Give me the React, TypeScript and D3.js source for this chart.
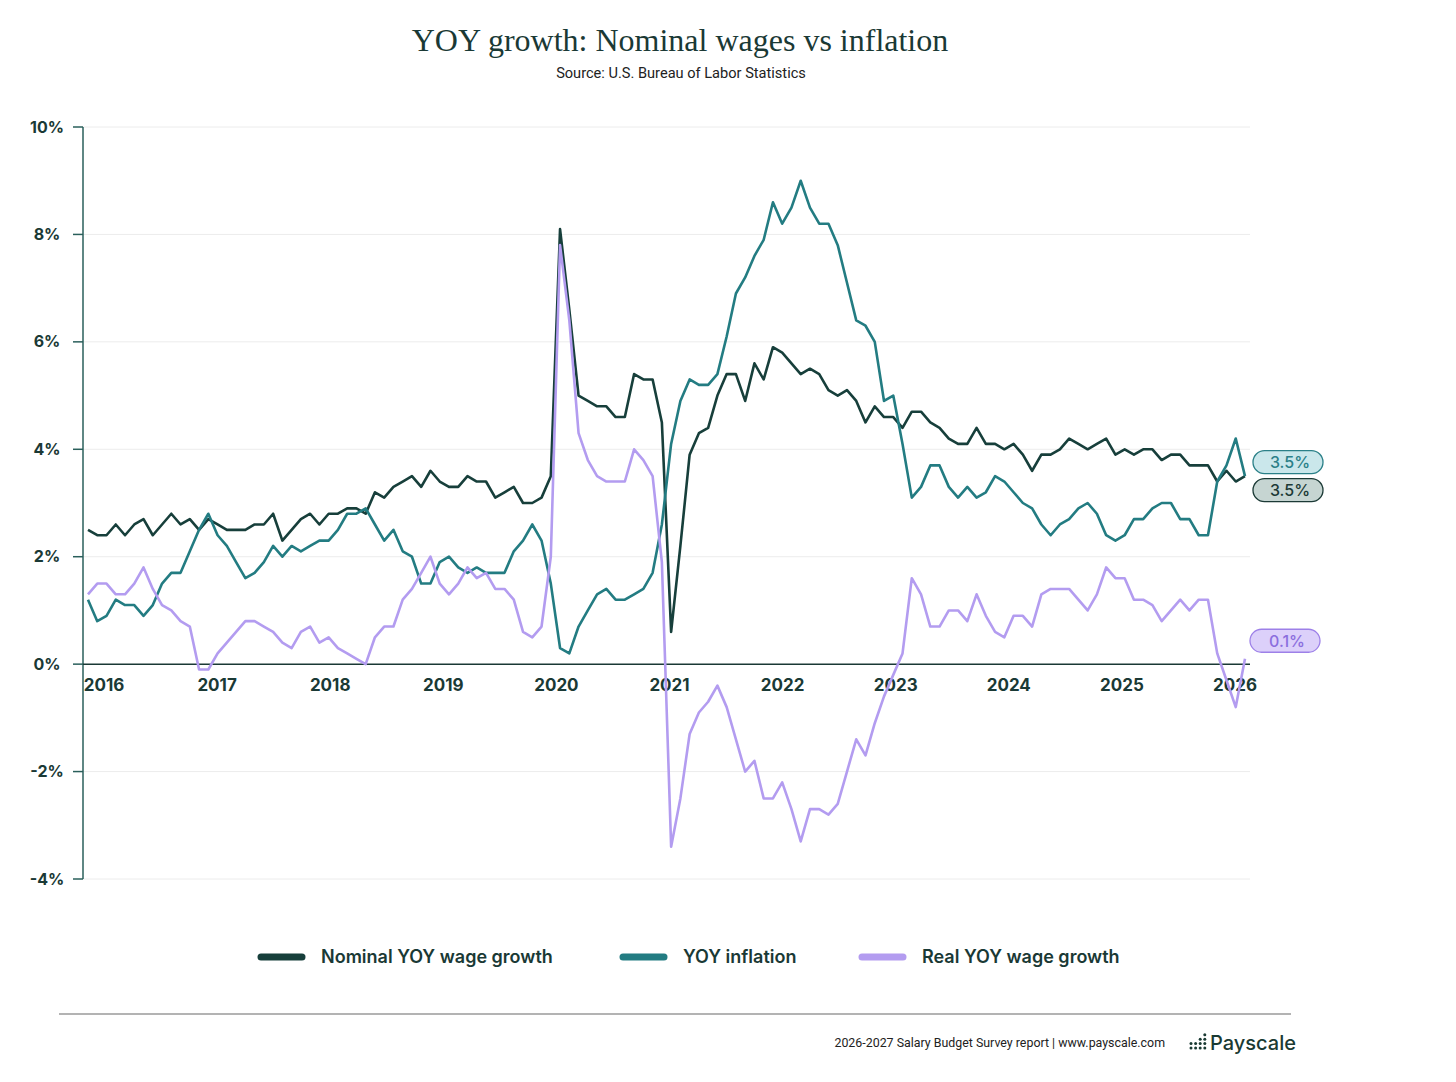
import * as React from "react";
import * as d3 from "d3";

// monthly YOY values, Jan 2016 onwards
const nominal = [
    2.5, 2.4, 2.4, 2.6, 2.4, 2.6, 2.7, 2.4, 2.6, 2.8, 2.6, 2.7,
    2.5, 2.7, 2.6, 2.5, 2.5, 2.5, 2.6, 2.6, 2.8, 2.3, 2.5, 2.7,
    2.8, 2.6, 2.8, 2.8, 2.9, 2.9, 2.8, 3.2, 3.1, 3.3, 3.4, 3.5,
    3.3, 3.6, 3.4, 3.3, 3.3, 3.5, 3.4, 3.4, 3.1, 3.2, 3.3, 3.0,
    3.0, 3.1, 3.5, 8.1, 6.6, 5.0, 4.9, 4.8, 4.8, 4.6, 4.6, 5.4,
    5.3, 5.3, 4.5, 0.6, 2.2, 3.9, 4.3, 4.4, 5.0, 5.4, 5.4, 4.9,
    5.6, 5.3, 5.9, 5.8, 5.6, 5.4, 5.5, 5.4, 5.1, 5.0, 5.1, 4.9,
    4.5, 4.8, 4.6, 4.6, 4.4, 4.7, 4.7, 4.5, 4.4, 4.2, 4.1, 4.1,
    4.4, 4.1, 4.1, 4.0, 4.1, 3.9, 3.6, 3.9, 3.9, 4.0, 4.2, 4.1,
    4.0, 4.1, 4.2, 3.9, 4.0, 3.9, 4.0, 4.0, 3.8, 3.9, 3.9, 3.7,
    3.7, 3.7, 3.4, 3.6, 3.4, 3.5,
];

const inflation = [
    1.2, 0.8, 0.9, 1.2, 1.1, 1.1, 0.9, 1.1, 1.5, 1.7, 1.7, 2.1,
    2.5, 2.8, 2.4, 2.2, 1.9, 1.6, 1.7, 1.9, 2.2, 2.0, 2.2, 2.1,
    2.2, 2.3, 2.3, 2.5, 2.8, 2.8, 2.9, 2.6, 2.3, 2.5, 2.1, 2.0,
    1.5, 1.5, 1.9, 2.0, 1.8, 1.7, 1.8, 1.7, 1.7, 1.7, 2.1, 2.3,
    2.6, 2.3, 1.5, 0.3, 0.2, 0.7, 1.0, 1.3, 1.4, 1.2, 1.2, 1.3,
    1.4, 1.7, 2.6, 4.1, 4.9, 5.3, 5.2, 5.2, 5.4, 6.1, 6.9, 7.2,
    7.6, 7.9, 8.6, 8.2, 8.5, 9.0, 8.5, 8.2, 8.2, 7.8, 7.1, 6.4,
    6.3, 6.0, 4.9, 5.0, 4.1, 3.1, 3.3, 3.7, 3.7, 3.3, 3.1, 3.3,
    3.1, 3.2, 3.5, 3.4, 3.2, 3.0, 2.9, 2.6, 2.4, 2.6, 2.7, 2.9,
    3.0, 2.8, 2.4, 2.3, 2.4, 2.7, 2.7, 2.9, 3.0, 3.0, 2.7, 2.7,
    2.4, 2.4, 3.4, 3.7, 4.2, 3.5,
];

const real = [
    1.3, 1.5, 1.5, 1.3, 1.3, 1.5, 1.8, 1.4, 1.1, 1.0, 0.8, 0.7,
    -0.1, -0.1, 0.2, 0.4, 0.6, 0.8, 0.8, 0.7, 0.6, 0.4, 0.3, 0.6,
    0.7, 0.4, 0.5, 0.3, 0.2, 0.1, 0.0, 0.5, 0.7, 0.7, 1.2, 1.4,
    1.7, 2.0, 1.5, 1.3, 1.5, 1.8, 1.6, 1.7, 1.4, 1.4, 1.2, 0.6,
    0.5, 0.7, 2.0, 7.8, 6.4, 4.3, 3.8, 3.5, 3.4, 3.4, 3.4, 4.0,
    3.8, 3.5, 1.9, -3.4, -2.5, -1.3, -0.9, -0.7, -0.4, -0.8, -1.4, -2.0,
    -1.8, -2.5, -2.5, -2.2, -2.7, -3.3, -2.7, -2.7, -2.8, -2.6, -2.0, -1.4,
    -1.7, -1.1, -0.6, -0.2, 0.2, 1.6, 1.3, 0.7, 0.7, 1.0, 1.0, 0.8,
    1.3, 0.9, 0.6, 0.5, 0.9, 0.9, 0.7, 1.3, 1.4, 1.4, 1.4, 1.2,
    1.0, 1.3, 1.8, 1.6, 1.6, 1.2, 1.2, 1.1, 0.8, 1.0, 1.2, 1.0,
    1.2, 1.2, 0.2, -0.3, -0.8, 0.1,
];

const yearLabels = ["2016", "2017", "2018", "2019", "2020", "2021", "2022", "2023", "2024", "2025", "2026"];
const yTicks = [10, 8, 6, 4, 2, 0, -2, -4];
const seriesNames = ["Nominal YOY wage growth", "YOY inflation", "Real YOY wage growth"];

const DARK = "#173f3b";
const TEAL = "#237c82";
const PURPLE = "#b39cf0";
const INK = "#1a3935";

const series = [
    { name: seriesNames[0], values: nominal, color: DARK, pillFill: "#c6d5d2", pillStroke: "#1c3a36", pillText: "#1c3a36", pillShift: 14 },
    { name: seriesNames[1], values: inflation, color: TEAL, pillFill: "#cae7eb", pillStroke: "#2b8088", pillText: "#2b8088", pillShift: -14 },
    { name: seriesNames[2], values: real, color: PURPLE, pillFill: "#dcd0fa", pillStroke: "#9d80e8", pillText: "#8b6ede", pillShift: -18 },
];

const sans = "Inter, 'Noto Sans', sans-serif";

export default function App() {
    const width = 1456;
    const height = 1082;

    const x = d3.scaleLinear().domain([0, nominal.length - 1]).range([88, 1245]);
    const y = d3.scaleLinear().domain([-4, 10]).range([879, 127]);
    const yearX = d3.scalePoint<string>().domain(yearLabels).range([104, 1235]);
    const fmt = d3.format(".1f");

    const line = d3.line<number>()
        .x((_d, i) => x(i))
        .y(d => y(d))
        .curve(d3.curveLinear);

    const legendX = [258, 620, 859];
    const last = nominal.length - 1;

    return <svg width={width} height={height} style={{ position: "absolute", left: 0, top: 0, background: "#fff" }}>
        <text x={680} y={51} textAnchor="middle" fontFamily="'Liberation Serif', 'DejaVu Serif', serif" fontSize={32} fill={INK}>
            YOY growth: Nominal wages vs inflation
        </text>
        <text x={681} y={78} textAnchor="middle" fontFamily="Roboto, sans-serif" fontSize={14.6} fill="#222">
            Source: U.S. Bureau of Labor Statistics
        </text>

        {yTicks.map(t => <g key={t}>
            {t !== 0 && <line x1={83} x2={1250} y1={y(t)} y2={y(t)} stroke="#ececec" strokeWidth={1} />}
            <line x1={73} x2={83} y1={y(t)} y2={y(t)} stroke="#2a5f5b" strokeWidth={1.5} />
            <text x={47} y={y(t)} dy="0.35em" textAnchor="middle" fontFamily={sans} fontWeight={700} fontSize={16} fill={INK}>{t}%</text>
        </g>)}

        <line x1={83} x2={83} y1={y(10)} y2={y(-4)} stroke="#2a5f5b" strokeWidth={1.5} />
        <line x1={83} x2={1250} y1={y(0)} y2={y(0)} stroke={INK} strokeWidth={1.5} />

        {yearLabels.map(l => <text key={l} x={yearX(l)} y={691} textAnchor="middle" fontFamily={sans} fontWeight={700} fontSize={17} fill={INK}>{l}</text>)}

        {series.map(s => <path key={s.name} d={line(s.values) || ""} fill="none" stroke={s.color} strokeWidth={2.6} strokeLinejoin="round" />)}

        {series.map(s => {
            const cy = y(s.values[last]) + s.pillShift;
            const px = s.color === PURPLE ? 1250 : 1253;
            return <g key={s.name + "pill"}>
                <rect x={px} y={cy - 11.5} width={70} height={23} rx={11.5} fill={s.pillFill} stroke={s.pillStroke} strokeWidth={1.3} />
                <text x={px + 37} y={cy} dy="0.36em" textAnchor="middle" fontFamily={sans} fontWeight={500} fontSize={16} fill={s.pillText}>
                    {fmt(s.values[last])}%
                </text>
            </g>;
        })}

        {series.map((s, i) => <g key={s.name + "legend"} transform={`translate(${legendX[i]},957)`}>
            <line x1={3} x2={44} y1={0} y2={0} stroke={s.color} strokeWidth={7} strokeLinecap="round" />
            <text x={63} y={0} dy="0.35em" fontFamily={sans} fontWeight={600} fontSize={18} fill={INK}>{s.name}</text>
        </g>)}

        <line x1={59} x2={1291} y1={1014} y2={1014} stroke="#9a9a9a" strokeWidth={1.5} />

        <text x={1165} y={1047} textAnchor="end" fontFamily="Roboto, sans-serif" fontSize={12.4} fill="#222">
            2026-2027 Salary Budget Survey report |  www.payscale.com
        </text>
        <g fill="#1a3a33">
            {[2, 2, 3, 4].map((n, c) => d3.range(n).map(r =>
                <circle key={c + "-" + r} cx={1191 + c * 4.6} cy={1048 - r * 4.4} r={1.5} />
            ))}
            <text x={1210} y={1050} fontFamily={sans} fontWeight={500} fontSize={20} fill="#1a3a33">Payscale</text>
        </g>
    </svg>;
}
